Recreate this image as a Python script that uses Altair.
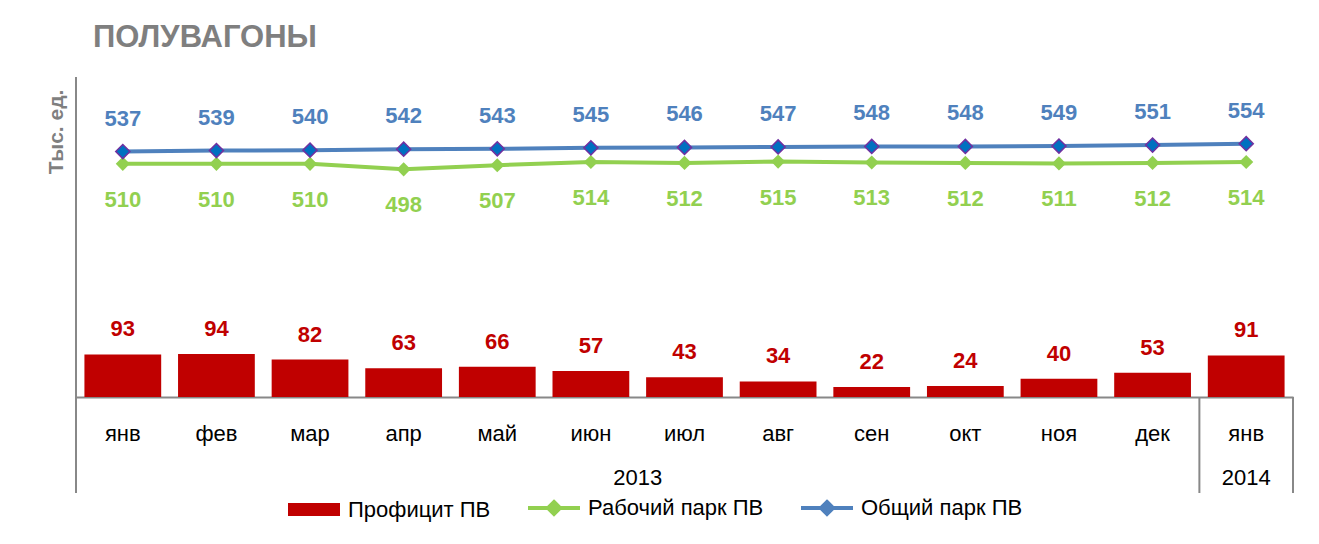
import altair as alt
import pandas as pd

months = ["янв", "фев", "мар", "апр", "май", "июн", "июл", "авг", "сен", "окт", "ноя", "дек", "янв"]
years = ["2013"] * 12 + ["2014"]
surplus = [93, 94, 82, 63, 66, 57, 43, 34, 22, 24, 40, 53, 91]
working = [510, 510, 510, 498, 507, 514, 512, 515, 513, 512, 511, 512, 514]
total = [537, 539, 540, 542, 543, 545, 546, 547, 548, 548, 549, 551, 554]
series_names = ["Профицит ПВ", "Рабочий парк ПВ", "Общий парк ПВ"]
series_colors = ["#C00000", "#92D050", "#4F81BD"]
year_labels = ["2013", "2014"]
title_text = "ПОЛУВАГОНЫ"
y_title = "Тыс. ед."

keys = [f"{m} {y}" for m, y in zip(months, years)]
W, H = 1217, 320
FONT = "Liberation Sans Narrow, Arial Narrow, Liberation Sans, sans-serif"
GRAY = "#888888"
VAL_FS = 22
LAB_FS = 22

bars_df = pd.DataFrame({"key": keys, "value": surplus, "series": series_names[0]})
work_df = pd.DataFrame({"key": keys, "value": working, "series": series_names[1]})
tot_df = pd.DataFrame({"key": keys, "value": total, "series": series_names[2]})
lines_df = pd.concat([work_df, tot_df], ignore_index=True)

x = alt.X(
    "key:N",
    sort=keys,
    scale=alt.Scale(domain=keys, paddingInner=0.18, paddingOuter=0.09),
    axis=alt.Axis(
        title=None,
        labelExpr="split(datum.label, ' ')[0]",
        ticks=False,
        labelAngle=0,
        labelFont=FONT,
        labelFontSize=LAB_FS,
        labelColor="#000000",
        labelPadding=36,
        labelBaseline="middle",
        domainColor=GRAY,
        domainWidth=2,
        grid=False,
    ),
)
y = alt.Y("value:Q", scale=alt.Scale(domain=[0, 700]), axis=None)

is_bar = f"datum.value === '{series_names[0]}'"
legend = alt.Legend(
    title=None,
    orient="none",
    legendX=214,
    legendY=420,
    direction="horizontal",
    columns=3,
    columnPadding=29,
    symbolOffset=13,
    labelOffset=23,
    symbolSize=2704,
    labelFont=FONT,
    labelFontSize=22,
    labelColor="#000000",
    labelLimit=400,
    symbolType=alt.ExprRef(expr=f"{is_bar} ? 'M-1,-0.25H1V0.25H-1Z' : 'M-1,0H1M0,-0.23L0.23,0L0,0.23L-0.23,0Z'"),
    symbolStrokeColor=alt.ExprRef(expr="scale('color', datum.value)"),
    symbolFillColor=alt.ExprRef(
        expr=f"datum.value === '{series_names[2]}' ? '#0070C0' : scale('color', datum.value)"
    ),
    symbolStrokeWidth=alt.ExprRef(expr=f"{is_bar} ? 0 : 4"),
    symbolOpacity=1,
)
color = alt.Color("series:N", scale=alt.Scale(domain=series_names, range=series_colors), legend=legend)

bars = alt.Chart(bars_df).mark_bar(color=series_colors[0]).encode(x=x, y=y, color=color)
bar_labels = alt.Chart(bars_df).mark_text(
    dy=-25, baseline="middle", font=FONT, fontSize=VAL_FS, fontWeight="bold", color="#C00000"
).encode(x=x, y=y, text="value:Q")

lines = alt.Chart(lines_df).mark_line(strokeWidth=4).encode(x=x, y=y, color=color, detail="series:N")
work_pts = alt.Chart(work_df).mark_point(
    shape="diamond", filled=True, size=200, fill="#92D050", opacity=1
).encode(x=x, y=y)
tot_pts = alt.Chart(tot_df).mark_point(
    shape="diamond", filled=True, size=200, fill="#0070C0", stroke="#7030A0", strokeWidth=1.5, opacity=1
).encode(x=x, y=y)
work_labels = alt.Chart(work_df).mark_text(
    dy=36, baseline="middle", font=FONT, fontSize=VAL_FS, fontWeight="bold", color="#92D050"
).encode(x=x, y=y, text="value:Q")
tot_labels = alt.Chart(tot_df).mark_text(
    dy=-33, baseline="middle", font=FONT, fontSize=VAL_FS, fontWeight="bold", color="#4F81BD"
).encode(x=x, y=y, text="value:Q")

step = W / len(keys)
one = pd.DataFrame({"t": [0]})
ext = 96
rule_style = dict(color=GRAY, strokeWidth=2)
yaxis_line = alt.Chart(one).mark_rule(**rule_style).encode(
    x=alt.value(0), y=alt.value(0), y2=alt.value(H + ext)
)
sep_line = alt.Chart(one).mark_rule(**rule_style).encode(
    x=alt.value(12 * step), y=alt.value(H), y2=alt.value(H + ext)
)
right_line = alt.Chart(one).mark_rule(**rule_style).encode(
    x=alt.value(W), y=alt.value(H), y2=alt.value(H + ext)
)
year_text = [
    alt.Chart(pd.DataFrame({"t": [year_labels[0]]})).mark_text(
        font=FONT, fontSize=LAB_FS, color="#000000", baseline="middle", align="center"
    ).encode(x=alt.value(6 * step), y=alt.value(H + 81), text="t:N"),
    alt.Chart(pd.DataFrame({"t": [year_labels[1]]})).mark_text(
        font=FONT, fontSize=LAB_FS, color="#000000", baseline="middle", align="center"
    ).encode(x=alt.value(12.5 * step), y=alt.value(H + 81), text="t:N"),
]
title = alt.Chart(pd.DataFrame({"t": [title_text]})).mark_text(
    font=FONT, fontSize=31, fontWeight="bold", color="#7F7F7F", align="left", baseline="middle"
).encode(x=alt.value(17), y=alt.value(-39), text="t:N")
ytitle = alt.Chart(pd.DataFrame({"t": [y_title]})).mark_text(
    font=FONT, fontSize=21, fontWeight="bold", color="#7F7F7F", align="center", baseline="middle", angle=270
).encode(x=alt.value(-19), y=alt.value(55), text="t:N")

chart = alt.layer(
    bars, bar_labels, lines, work_pts, tot_pts, work_labels, tot_labels,
    yaxis_line, sep_line, right_line, *year_text, title, ytitle,
).properties(
    width=W,
    height=H,
    autosize=alt.AutoSizeParams(type="none"),
    padding={"left": 68, "top": 69, "right": 10, "bottom": 140},
    background="#FFFFFF",
).configure_view(stroke=None)

chart.save("out.html", embed_options={"renderer": "svg", "actions": False})
